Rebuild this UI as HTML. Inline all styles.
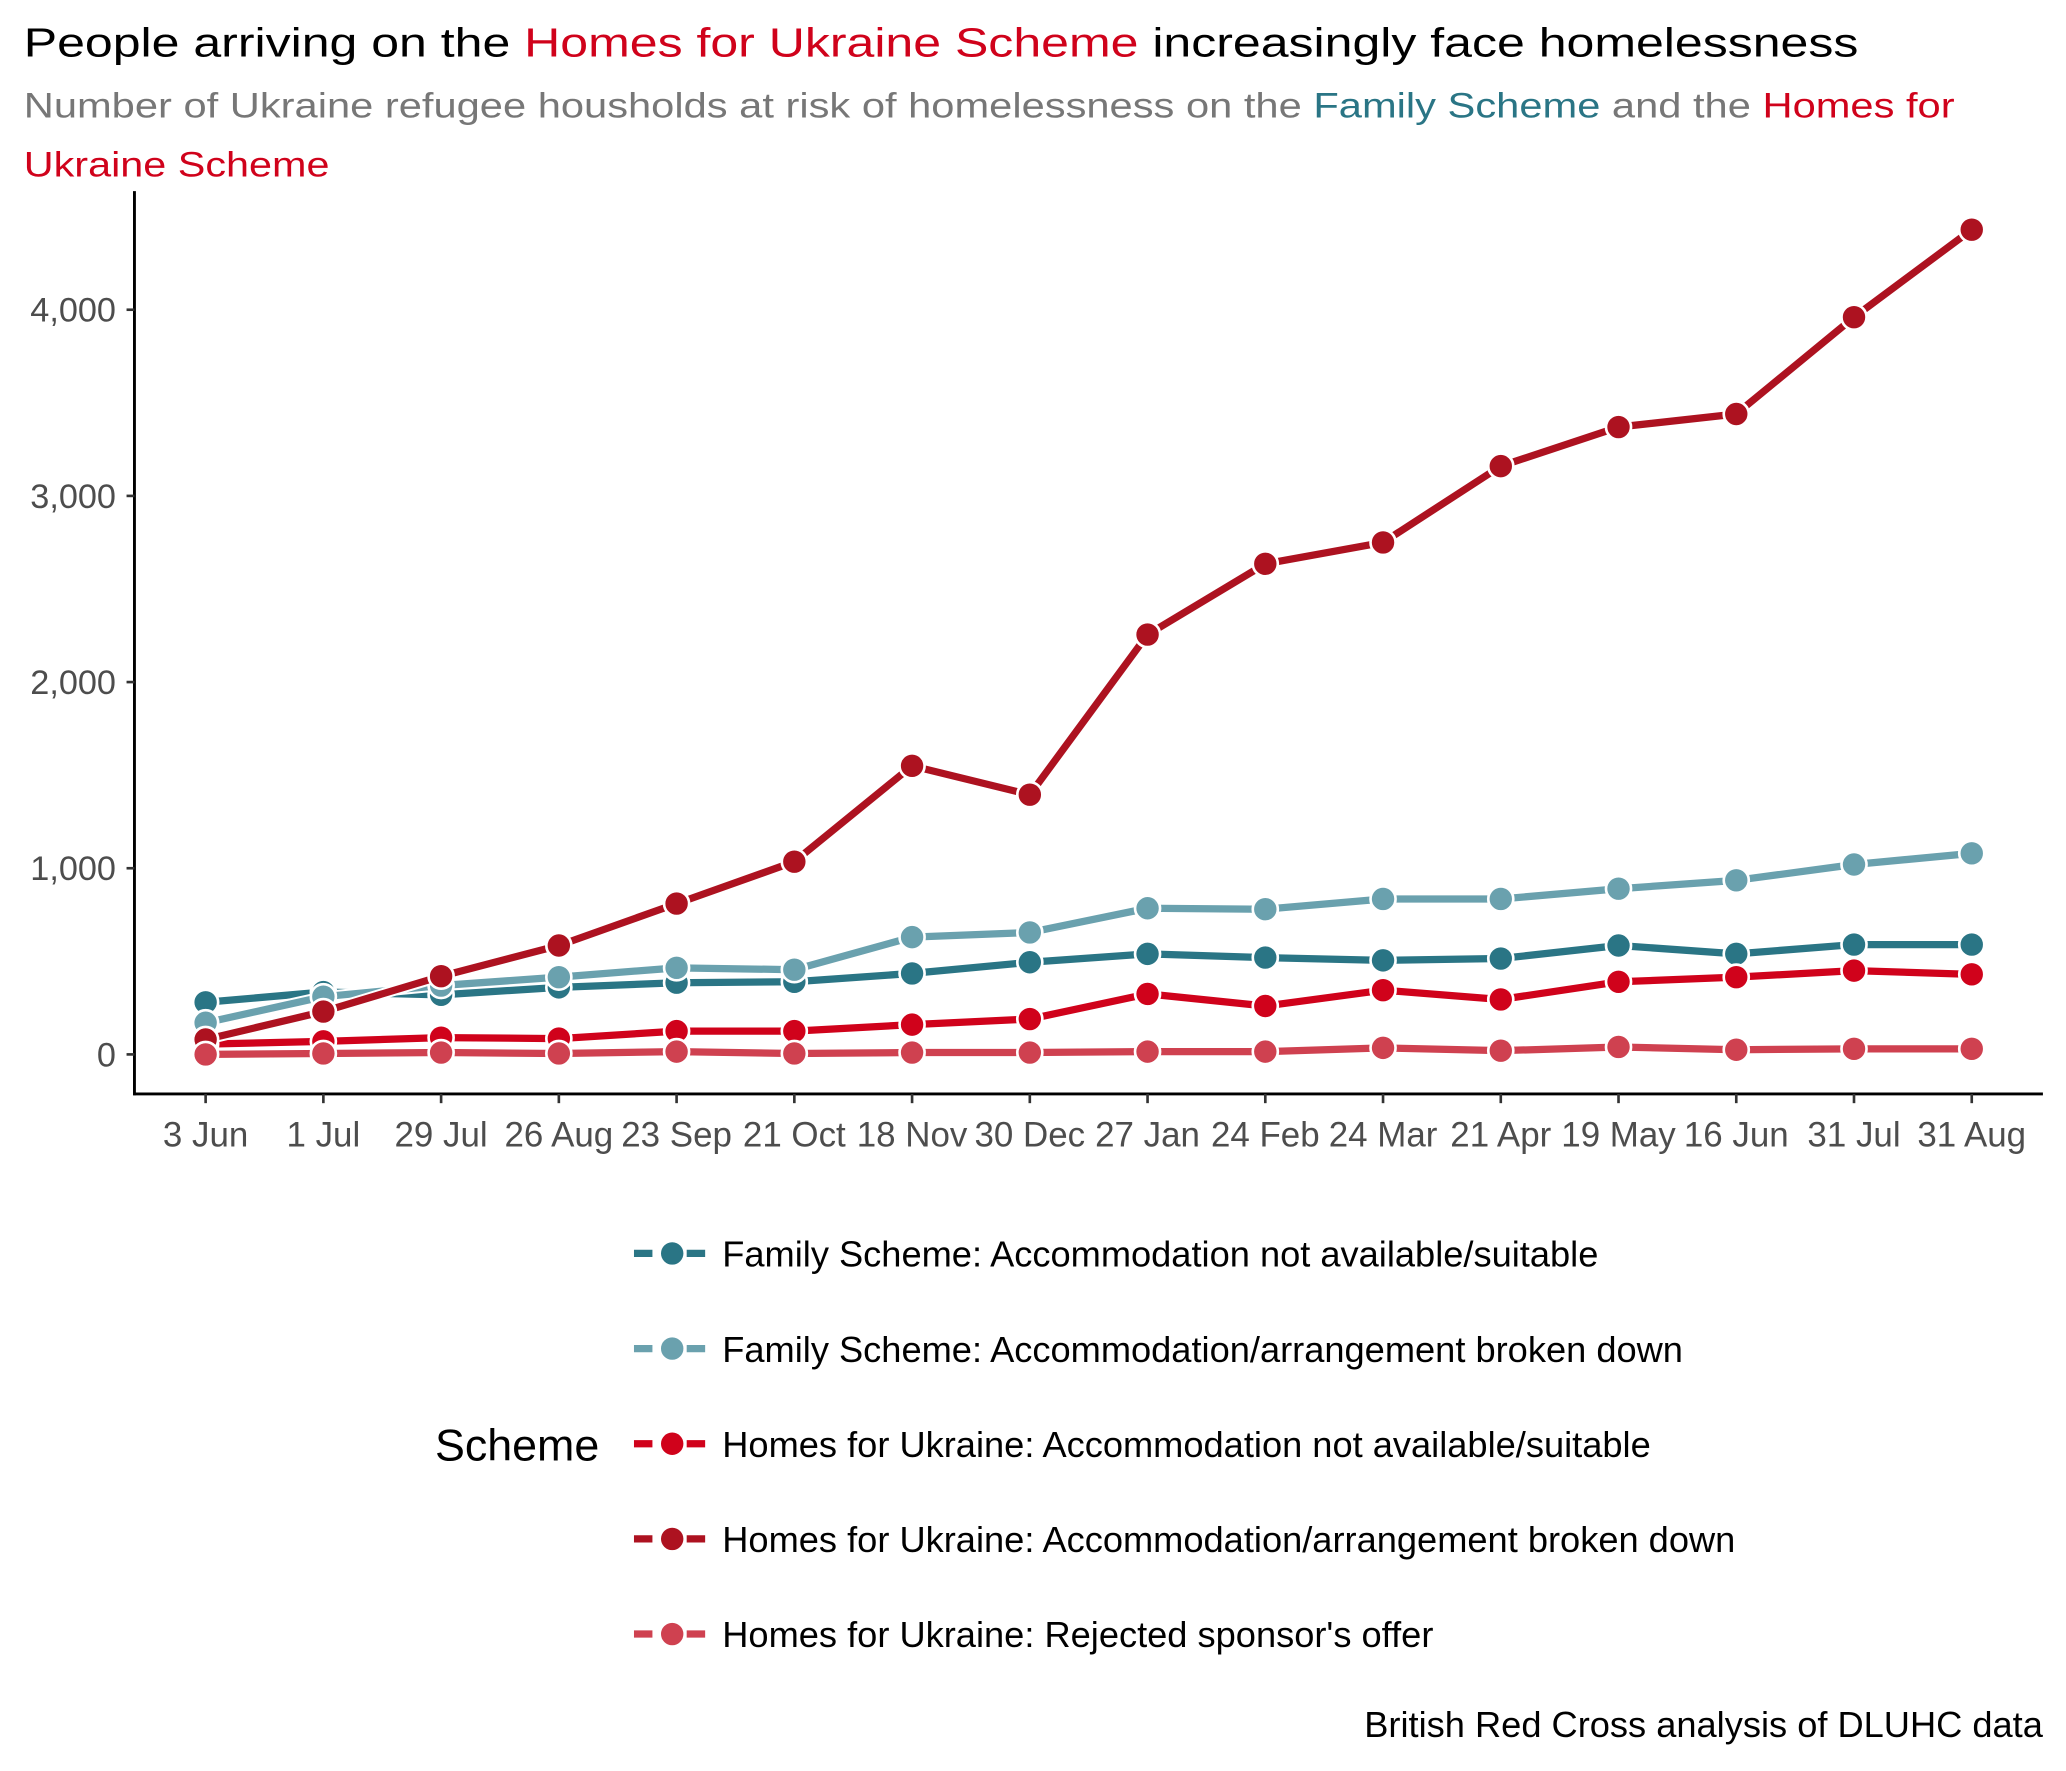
<!DOCTYPE html>
<html><head><meta charset="utf-8"><style>
html,body{margin:0;padding:0;background:#fff}
svg{display:block;font-family:"Liberation Sans",Arial,sans-serif}
</style></head><body>
<svg id="chart" width="2066" height="1771" viewBox="0 0 1567.5 1343.7" xmlns="http://www.w3.org/2000/svg">
<text x="18" y="43" font-size="31" fill="#000" textLength="1392" lengthAdjust="spacingAndGlyphs">People arriving on the <tspan fill="#d0021b">Homes for Ukraine Scheme</tspan> increasingly face homelessness</text>
<text x="18" y="89" font-size="27" fill="#777" textLength="1465" lengthAdjust="spacingAndGlyphs">Number of Ukraine refugee housholds at risk of homelessness on the <tspan fill="#2a7585">Family Scheme</tspan> and the <tspan fill="#d0021b">Homes for</tspan></text>
<text x="18" y="134" font-size="27" fill="#d0021b" textLength="232" lengthAdjust="spacingAndGlyphs">Ukraine Scheme</text>
<g id="axes"></g>
<g id="series"></g>
<g id="legend"></g>
<text x="1550" y="1318" font-size="27.5" fill="#000" text-anchor="end">British Red Cross analysis of DLUHC data</text>
</svg>
<script>
const categories = ["3 Jun","1 Jul","29 Jul","26 Aug","23 Sep","21 Oct","18 Nov","30 Dec","27 Jan","24 Feb","24 Mar","21 Apr","19 May","16 Jun","31 Jul","31 Aug"];
const yTicks = [0,1000,2000,3000,4000];
const yTickLabels = ["0","1,000","2,000","3,000","4,000"];
const seriesNames = ["Family Scheme: Accommodation not available/suitable","Family Scheme: Accommodation/arrangement broken down","Homes for Ukraine: Accommodation not available/suitable","Homes for Ukraine: Accommodation/arrangement broken down","Homes for Ukraine: Rejected sponsor's offer"];
const seriesColors = ["#2a7585","#6aa1ae","#d0021b","#ad1220","#cf4150"];
const familyNotAvailable = [280,335,320,360,385,390,435,495,540,520,505,515,585,540,590,590];
const familyBrokenDown = [170,310,370,415,465,455,630,655,785,780,835,835,890,935,1020,1080];
const hfuNotAvailable = [55,70,90,85,125,125,160,190,325,260,345,295,390,415,450,430];
const hfuBrokenDown = [80,230,420,585,810,1035,1550,1395,2255,2635,2750,3160,3370,3440,3960,4430];
const hfuRejected = [0,5,10,5,15,5,10,10,15,15,35,20,40,25,30,30];
const seriesValues = [familyNotAvailable,familyBrokenDown,hfuNotAvailable,hfuBrokenDown,hfuRejected];

const NS="http://www.w3.org/2000/svg";
const X0=156, X1=1496, Y0=800, YPER=141.25/1000;
function xScale(i){return X0+i*(X1-X0)/(categories.length-1);}
function yScale(v){return Y0-v*YPER;}
function mk(tag,attrs,parent){const e=document.createElementNS(NS,tag);for(const k in attrs)e.setAttribute(k,attrs[k]);parent.appendChild(e);return e;}

const axes=document.getElementById('axes');
const yAxis=mk('line',{x1:102,y1:145,x2:102,y2:831,stroke:'#000','stroke-width':2.2},axes);


const xAxis=mk('line',{x1:101,y1:830,x2:1550,y2:830,stroke:'#000','stroke-width':2.2},axes);


yTicks.forEach((v,i)=>{
  const y=yScale(v);
  mk('line',{x1:96,y1:y,x2:102,y2:y,stroke:'#333','stroke-width':2},axes);
  const t=mk('text',{x:88,y:y+9,'font-size':26,fill:'#4d4d4d','text-anchor':'end'},axes);
  t.textContent=yTickLabels[i];
  
  
});
categories.forEach((c,i)=>{
  const x=xScale(i);
  mk('line',{x1:x,y1:830,x2:x,y2:837,stroke:'#333','stroke-width':2},axes);
  const t=mk('text',{x:x,y:870,'font-size':26.5,fill:'#4d4d4d','text-anchor':'middle'},axes);
  t.textContent=c;
  
  
});

const sg=document.getElementById('series');
seriesValues.forEach((vals,s)=>{
  const g=mk('g',{},sg);
  
  
  const pts=vals.map((v,i)=>xScale(i)+','+yScale(v)).join(' ');
  const halo=mk('polyline',{points:pts,fill:'none',stroke:'#fff','stroke-width':8.5,'stroke-linejoin':'round'},g);
  
  
  const pl=mk('polyline',{points:pts,fill:'none',stroke:seriesColors[s],'stroke-width':5.5,'stroke-linejoin':'round'},g);
  
  
  vals.forEach((v,i)=>{
    const c=mk('circle',{cx:xScale(i),cy:yScale(v),r:9.5,fill:seriesColors[s],stroke:'#fff','stroke-width':2},g);
    
    
  });
});

const lg=document.getElementById('legend');
const st=mk('text',{x:330,y:1108,'font-size':34,fill:'#000'},lg);
st.textContent='Scheme';


seriesNames.forEach((n,s)=>{
  const y=951+s*72.2;
  const g=mk('g',{},lg);
  
  
  mk('line',{x1:481,y1:y,x2:539,y2:y,stroke:seriesColors[s],'stroke-width':5.5,'stroke-dasharray':'14 6'},g);
  mk('circle',{cx:510,cy:y,r:9.5,fill:seriesColors[s],stroke:'#fff','stroke-width':2},g);
  const t=mk('text',{x:548,y:y+10,'font-size':27.5,fill:'#000'},g);
  t.textContent=n;
  
  
});
</script>
</body></html>
